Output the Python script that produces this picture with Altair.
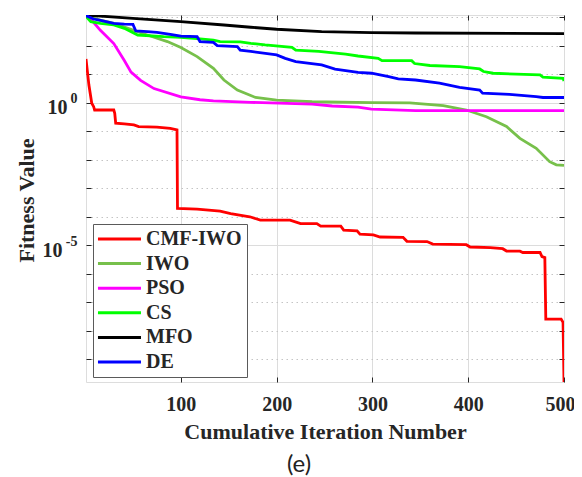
import altair as alt
import pandas as pd

SERIF = "Liberation Serif"
TXT = "#262626"

series_names = ["CMF-IWO", "IWO", "PSO", "CS", "MFO", "DE"]
series_colors = ["#FF0000", "#77C04B", "#FF00FF", "#00FF00", "#000000", "#0000FF"]

cmf_x = [1, 4, 7, 9, 10, 30, 31, 32, 41, 51, 56, 75, 89, 96, 96.5, 117, 141, 152, 172, 183, 214, 225, 242, 246, 267,
         270, 284, 287, 301, 308, 332, 336, 357, 363, 398, 402, 423, 436, 440, 454, 457, 475, 477, 480, 481, 497, 499, 500]
cmf_y = [34, 4.2, 0.95, 0.72, 0.55, 0.55, 0.42, 0.19, 0.18, 0.166, 0.145, 0.138, 0.126, 0.11, 1.95e-4, 1.86e-4, 1.58e-4,
         1.29e-4, 1.0e-4, 7.6e-5, 7.6e-5, 5.75e-5, 5.75e-5, 4.7e-5, 4.7e-5, 3.4e-5, 3.2e-5, 2.45e-5, 2.3e-5, 1.95e-5,
         1.9e-5, 1.38e-5, 1.35e-5, 1.1e-5, 1.05e-5, 8.7e-6, 8.3e-6, 7.6e-6, 6.3e-6, 6.2e-6, 5.6e-6, 5.6e-6, 4.0e-6,
         3.7e-6, 2.6e-8, 2.6e-8, 2.0e-8, 1.62e-10]

iwo_x = [1, 16, 30, 65, 86, 100, 117, 134, 145, 159, 173, 178, 200, 237, 299, 339, 374, 398, 419, 440, 454, 471, 485, 492, 500]
iwo_y = [1100, 775, 600, 234, 138, 85, 41, 15.8, 6.2, 2.75, 1.78, 1.51, 1.23, 1.07, 1.0, 0.98, 0.79, 0.55, 0.32, 0.145,
         0.056, 0.025, 0.0085, 0.0066, 0.0063]

pso_x = [1, 8, 16, 30, 41, 48, 58, 72, 100, 120, 134, 173, 237, 258, 285, 299, 345, 500]
pso_y = [1100, 710, 340, 117, 30, 11.7, 6.0, 3.1, 1.58, 1.26, 1.15, 1.02, 0.89, 0.76, 0.69, 0.59, 0.525, 0.525]

cs_x = [1, 6, 16, 30, 41, 55, 82, 100, 120, 134, 141, 162, 173, 188, 216, 220, 244, 272, 285, 306, 310, 341, 344, 360,
        391, 412, 416, 426, 475, 478, 499, 500]
cs_y = [1050, 690, 600, 525, 400, 234, 204, 195, 170, 155, 138, 135, 120, 105, 87, 69, 62, 50, 43, 35.5, 29.5, 29.5,
        23.4, 20, 18.2, 15.1, 12.3, 10.7, 9.3, 7.8, 7.1, 5.75]

mfo_x = [1, 50, 100, 145, 173, 200, 247, 299, 345, 500]
mfo_y = [1175, 890, 690, 525, 437, 372, 309, 282, 275, 263]

de_x = [1, 9, 16, 30, 41, 50, 53, 65, 75, 89, 100, 117, 120, 134, 138, 159, 162, 173, 200, 209, 220, 247, 261, 285, 299,
        317, 327, 345, 370, 391, 412, 415, 443, 471, 478, 500]
de_y = [1120, 850, 760, 600, 560, 550, 324, 309, 288, 245, 214, 204, 138, 129, 100, 91, 69, 62, 47, 35.5, 27.5, 21, 15,
        11.5, 10.7, 8.1, 6.8, 6.2, 4.8, 3.4, 2.75, 2.14, 1.95, 1.62, 1.51, 1.51]

x_ticks = [100, 200, 300, 400, 500]
y_decades = [1e-9, 1e-8, 1e-7, 1e-6, 1e-5, 1e-4, 1e-3, 1e-2, 1e-1, 1, 1e1, 1e2, 1e3]
y_major = [1e-5, 1]
x_domain = [1, 500]
y_domain = [1.62e-10, 1175]

rows = []
for name, xs, ys in zip(series_names,
                        [cmf_x, iwo_x, pso_x, cs_x, mfo_x, de_x],
                        [cmf_y, iwo_y, pso_y, cs_y, mfo_y, de_y]):
    for i, (xv, yv) in enumerate(zip(xs, ys)):
        rows.append({"series": name, "iter": xv, "fit": yv, "i": i})
df = pd.DataFrame(rows)

W, H = 478, 367
xscale = alt.Scale(domain=x_domain, nice=False, zero=False)
yscale = alt.Scale(type="log", domain=y_domain, nice=False)

major_test = "abs(round(log(datum.value)/LN10)) % 5 == 0"

lines = alt.Chart(df).mark_line(strokeWidth=2.8, clip=True).encode(
    x=alt.X("iter:Q", scale=xscale, axis=alt.Axis(
        values=x_ticks, orient="bottom", title="Cumulative Iteration Number",
        grid=True, gridColor="#DCDCDC", gridWidth=1, ticks=False, domain=False,
        labelFont=SERIF, labelFontSize=20, labelFontWeight="bold", labelColor=TXT,
        labelPadding=12, labelAngle=0, labelFlush=False, labelOverlap=False,
        labelOffset={"condition": {"test": "datum.value >= 500", "value": -4}, "value": 0},
        titleFont=SERIF, titleFontSize=22, titleFontWeight="bold", titleColor=TXT,
        titleY=56.6, titleBaseline="alphabetic")),
    y=alt.Y("fit:Q", scale=yscale, axis=alt.Axis(
        values=y_decades, orient="left", title="Fitness Value",
        grid=True,
        gridColor={"condition": {"test": major_test, "value": "#DCDCDC"}, "value": "#C4C4C4"},
        gridDash={"condition": {"test": major_test, "value": []}, "value": [1.5, 3.5]},
        ticks=False, domain=False,
        labelExpr=major_test + " ? '10' : ''",
        labelFont=SERIF, labelFontSize=20, labelFontWeight="bold", labelColor=TXT,
        labelAlign="right", labelBaseline="alphabetic", labelOffset=11,
        labelPadding={"condition": {"test": "datum.value < 0.01", "value": 24}, "value": 19},
        labelOverlap=False, labelFlush=False,
        titleFont=SERIF, titleFontSize=22, titleFontWeight="bold", titleColor=TXT,
        titleX=-52.7, titleY=185, titleBaseline="alphabetic", titleAngle=-90)),
    color=alt.Color("series:N", scale=alt.Scale(domain=series_names, range=series_colors),
                    legend=alt.Legend(title=None, orient="none", legendX=7, legendY=209,
                                      direction="vertical", symbolType="M-1.18,0H3.88", symbolSize=289,
                                      symbolStrokeWidth=3, symbolOffset=0,
                                      labelFont=SERIF, labelFontSize=20,
                                      labelFontWeight="bold", labelColor=TXT, strokeColor="#5A5A5A",
                                      fillColor="white", padding=5, rowPadding=4.6, labelOffset=28)),
    order="i:Q",
)

tick_ax = dict(labels=False, domain=False, grid=False, ticks=True, tickSize=5,
               tickColor=TXT, tickWidth=1, title=None)

ticks_a = alt.Chart(df).mark_point(opacity=0).encode(
    x=alt.X("iter:Q", scale=xscale, axis=alt.Axis(values=x_ticks, orient="top", offset=-H, **tick_ax)),
    y=alt.Y("fit:Q", scale=yscale, axis=alt.Axis(values=y_decades, orient="right", offset=-W, **tick_ax)),
)
ticks_b = alt.Chart(df).mark_point(opacity=0).encode(
    x=alt.X("iter:Q", scale=xscale, axis=alt.Axis(values=x_ticks, orient="bottom", offset=-H, **tick_ax)),
    y=alt.Y("fit:Q", scale=yscale, axis=alt.Axis(values=y_decades, orient="left", offset=-W, **tick_ax)),
)
expo = alt.Chart(df).mark_point(opacity=0).encode(
    x=alt.X("iter:Q", scale=xscale, axis=None),
    y=alt.Y("fit:Q", scale=yscale, axis=alt.Axis(
        values=y_major, orient="left", title=None, grid=False, ticks=False, tickSize=0, domain=False,
        labelExpr="'' + round(log(datum.value)/LN10)",
        labelFont=SERIF, labelFontSize=14, labelFontWeight="bold", labelColor=TXT,
        labelAlign="right", labelBaseline="alphabetic", labelOffset=0, labelPadding=9,
        labelOverlap=False, labelFlush=False)),
)

chart = alt.layer(lines, ticks_a, ticks_b, expo).resolve_axis(x="independent", y="independent").properties(
    width=W, height=H,
    autosize="none",
    padding={"left": 78, "top": 7, "right": 10, "bottom": 95},
    title=alt.TitleParams("(e)", orient="bottom", anchor="middle", font="Lato", fontSize=24,
                          fontWeight="normal", color="#222222", offset=10, dx=-26),
).configure_view(stroke=TXT, strokeWidth=1).configure(background="white")

chart.save("out.html", embed_options={"renderer": "svg", "actions": False})
